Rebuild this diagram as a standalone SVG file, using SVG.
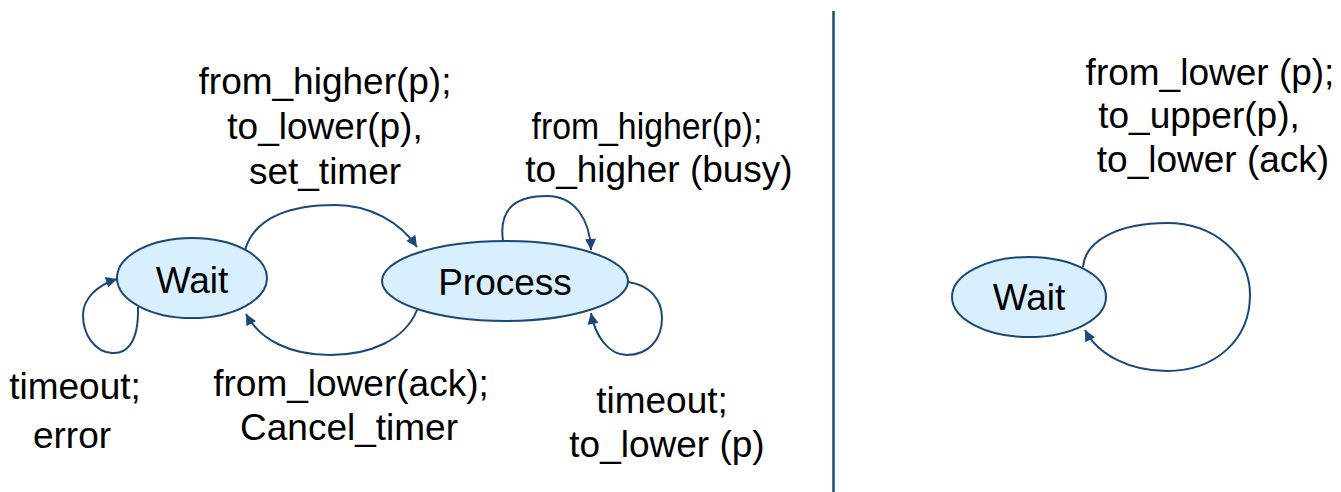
<svg xmlns="http://www.w3.org/2000/svg" width="1341" height="492" viewBox="0 0 1341 492">
  <style>
    .state { fill: #d7efff; stroke: #1a4878; stroke-width: 2; }
    .edge { fill: none; stroke: #1a4878; stroke-width: 2; }
    text { font-family: "Liberation Sans", Arial, sans-serif; font-size: 37px; fill: #000; text-anchor: middle; }
  </style>
  <defs>
    <marker id="arrow" viewBox="0 0 10 10" refX="10" refY="5" markerWidth="12" markerHeight="11" markerUnits="userSpaceOnUse" orient="auto">
      <path d="M0,0 L10,5 L0,10 z" fill="#1a4878"/>
    </marker>
  </defs>

  <rect width="1341" height="492" fill="#ffffff"/>

  <!-- divider between the two machines -->
  <line x1="833.5" y1="11" x2="833.5" y2="492" stroke="#1a4878" stroke-width="2.5"/>

  <!-- transitions -->
  <g id="connectors">
    <path class="edge" marker-end="url(#arrow)" d="M245,250 C255,215 295,205 335,205 C370,205 400,222 417,247"/>
    <path class="edge" marker-end="url(#arrow)" d="M417,310 C405,340 370,355 330,355 C290,355 260,340 246,314"/>
    <path class="edge" marker-end="url(#arrow)" d="M138,307 C139,345 125,354 112,353 C95,352 83,335 83,315 C83,298 98,285 117,279"/>
    <path class="edge" marker-end="url(#arrow)" d="M503,241 C498,205 520,196 547,196 C575,196 590,220 591,250"/>
    <path class="edge" marker-end="url(#arrow)" d="M628,282 C650,285 662,300 662,318 C662,340 648,355 627,355 C608,355 595,335 591,313"/>
    <path class="edge" marker-end="url(#arrow)" d="M1083,267 C1085,240 1120,223 1167,223 C1215,223 1250,255 1250,295 C1250,340 1215,371 1167,371 C1130,371 1098,355 1085,330"/>
  </g>

  <!-- sender states -->
  <g id="wait-sender">
    <ellipse class="state" cx="192" cy="278" rx="75" ry="40"/>
    <text x="192" y="293">Wait</text>
  </g>
  <g id="process">
    <ellipse class="state" cx="505" cy="281" rx="123" ry="40"/>
    <text x="505" y="295">Process</text>
  </g>

  <!-- receiver state -->
  <g id="wait-receiver">
    <ellipse class="state" cx="1029" cy="297" rx="77" ry="40"/>
    <text x="1029" y="310">Wait</text>
  </g>

  <!-- transition labels -->
  <g id="labels">
    <text x="325" y="94">from_higher(p);</text>
    <text x="325" y="139">to_lower(p),</text>
    <text x="325" y="184">set_timer</text>

    <text x="647" y="139" textLength="231" lengthAdjust="spacingAndGlyphs">from_higher(p);</text>
    <text x="659" y="182">to_higher (busy)</text>

    <text x="75" y="399">timeout;</text>
    <text x="72" y="448">error</text>

    <text x="351" y="396">from_lower(ack);</text>
    <text x="349" y="440">Cancel_timer</text>

    <text x="662" y="413">timeout;</text>
    <text x="667" y="457">to_lower (p)</text>

    <text x="1210" y="85">from_lower (p);</text>
    <text x="1199" y="128">to_upper(p),</text>
    <text x="1213" y="172">to_lower (ack)</text>
  </g>
</svg>
